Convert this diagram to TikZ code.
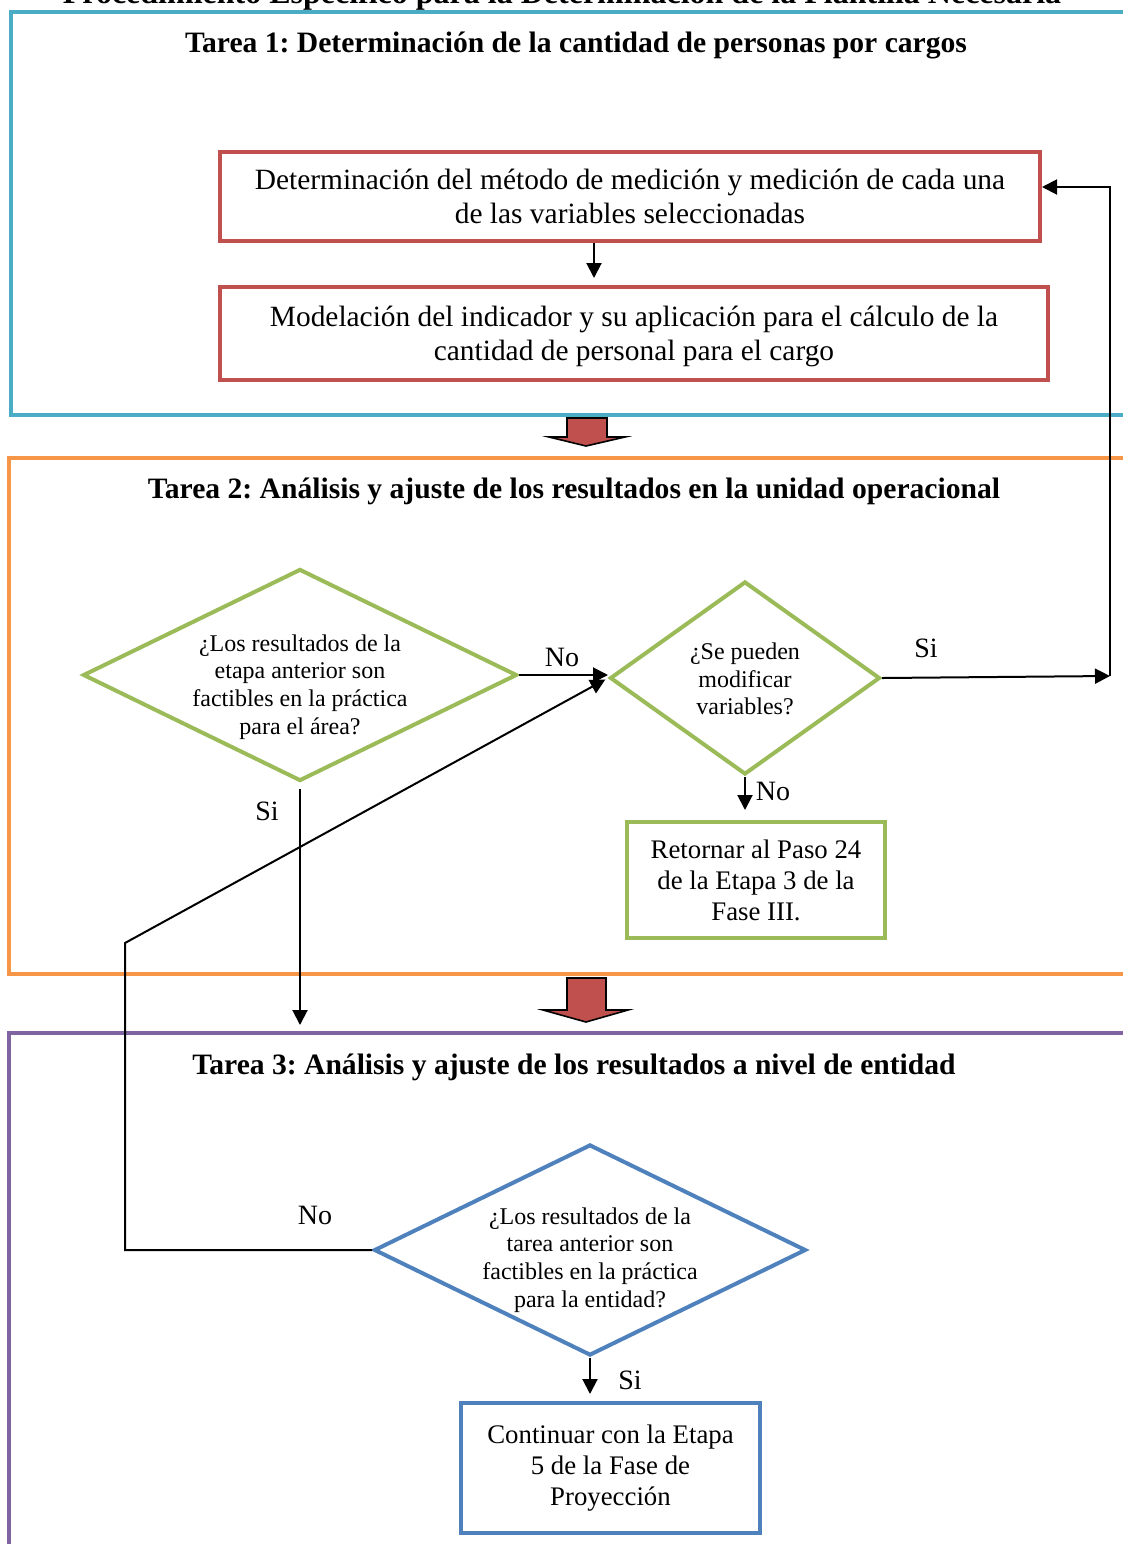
\documentclass[tikz,border=0pt]{standalone}
\usepackage{fontspec}
\setmainfont{Liberation Serif}
\usetikzlibrary{shapes.geometric,arrows.meta}

\definecolor{cyanframe}{HTML}{4BACC6}
\definecolor{orangeframe}{HTML}{F79646}
\definecolor{purpleframe}{HTML}{8064A2}
\definecolor{redline}{HTML}{C0504D}
\definecolor{greenline}{HTML}{9BBB59}
\definecolor{blueline}{HTML}{4F81BD}

\frenchspacing
\begin{document}
\begin{tikzpicture}[x=0.5pt,y=-0.5pt,
  frame/.style={line width=2.2pt},
  heading/.style={font=\fontsize{14.8}{17}\selectfont\bfseries, anchor=center},
  procbox/.style={draw, line width=2pt, align=center, inner sep=0pt,
    font=\fontsize{14.7}{17}\selectfont},
  endbox/.style={draw, line width=2pt, align=center, inner sep=0pt,
    font=\fontsize{13.4}{15.5}\selectfont},
  decision/.style={diamond, draw, line width=2pt, inner sep=0pt},
  asks/.style={align=center, inner sep=0pt, font=\fontsize{12}{13.9}\selectfont},
  flow/.style={line width=1pt, -{Triangle[length=7.5pt,width=7.5pt]}},
  answer/.style={font=\fontsize{14}{16}\selectfont},
  blockarrow/.style={fill=redline, draw=black, line width=0.8pt, line join=miter}
]
\useasboundingbox (0,0) rectangle (1123,1544);
\clip (0,0) rectangle (1123,1544);

% overall heading, running off the top edge
\node[font=\fontsize{16}{18}\selectfont\bfseries, anchor=base] (maintitle) at (562,3)
  {Procedimiento Específico para la Determinación de la Plantilla Necesaria};

% ---------------- Tarea 1 ----------------
\draw[frame, draw=cyanframe] (11,12) rectangle (1150,415);
\node[heading] (t1title) at (576,45)
  {Tarea 1: Determinación de la cantidad de personas por cargos};

\node[procbox, draw=redline, minimum width=410pt, minimum height=44.5pt]
  (medir) at (630,196.5)
  {Determinación del método de medición y medición de cada una\\de las variables seleccionadas};
\node[procbox, draw=redline, minimum width=414pt, minimum height=46.5pt]
  (modelar) at (634,333.5)
  {\rule{0pt}{13pt}Modelación del indicador y su aplicación para el cálculo de la\\cantidad de personal para el cargo};

\coordinate (xlink) at (594,0);
\draw[flow, shorten >=3.5pt] (medir.south -| xlink) -- (modelar.north -| xlink);

% block arrow between Tarea 1 and Tarea 2
\draw[blockarrow] (567,418) -- (607,418) -- (607,437) -- (625,437) -- (586,446)
  -- (549,437) -- (567,437) -- cycle;

% ---------------- Tarea 2 ----------------
\draw[frame, draw=orangeframe] (9,458) rectangle (1150,974);
\node[heading] (t2title) at (574,491)
  {Tarea 2: Análisis y ajuste de los resultados en la unidad operacional};

\node[decision, draw=greenline, minimum width=217pt, minimum height=106pt,
  label={[asks, yshift=-6pt]center:{¿Los resultados de la\\etapa anterior son\\factibles en la práctica\\para el área?}}]
  (factarea) at (300,675) {};
\node[decision, draw=greenline, minimum width=135pt, minimum height=96.5pt,
  label={[asks, yshift=-0.5pt]center:{¿Se pueden\\modificar\\variables?}}]
  (modif) at (745,678) {};
\node[endbox, draw=greenline, minimum width=129pt, minimum height=58pt]
  (retornar) at (756,880)
  {Retornar al Paso 24\\de la Etapa 3 de la\\Fase III.};

\draw[flow] (factarea.east) -- (factarea.east -| modif.west);
\node[answer] (noA) at (562,657) {No};

\coordinate (loopdown) at (1110,676);
\coordinate (looptop) at (1110,187);
\draw[flow] (modif.east) -- (loopdown);
\draw[flow] (loopdown) -- (looptop) -- (medir.east |- looptop);
\node[answer] (siA) at (926,648) {Si};

\draw[flow, shorten >=5pt] (modif.south) -- (modif.south |- retornar.north);
\node[answer] (noB) at (773,791) {No};

\coordinate (t3top) at (300,1025);
\draw[flow, shorten <=3pt] (factarea.south) -- (t3top);
\node[answer] (siB) at (267,811) {Si};

% block arrow between Tarea 2 and Tarea 3
\draw[blockarrow] (567,978) -- (606,978) -- (606,1010) -- (628,1010) -- (586,1022)
  -- (543,1010) -- (567,1010) -- cycle;

% ---------------- Tarea 3 ----------------
\draw[frame, draw=purpleframe] (9,1033) rectangle (1150,1580);
\node[heading] (t3title) at (574,1067)
  {Tarea 3: Análisis y ajuste de los resultados a nivel de entidad};

\node[decision, draw=blueline, minimum width=216pt, minimum height=105.5pt,
  label={[asks, yshift=-5pt]center:{¿Los resultados de la\\tarea anterior son\\factibles en la práctica\\para la entidad?}}]
  (factent) at (590,1250) {};
\node[endbox, draw=blueline, minimum width=149.5pt, minimum height=65pt]
  (continuar) at (610.5,1468)
  {Continuar con la Etapa\\5 de la Fase de\\Proyección};

\coordinate (backcorner) at (125,943);
\draw[flow, shorten >=1.5pt] (factent.west) -| (backcorner) -- (modif.west);
\node[answer] (noC) at (315,1215) {No};

\draw[flow, shorten >=3.5pt] (factent.south) -- (factent.south |- continuar.north);
\node[answer] (siC) at (630,1380) {Si};

\end{tikzpicture}
\end{document}
